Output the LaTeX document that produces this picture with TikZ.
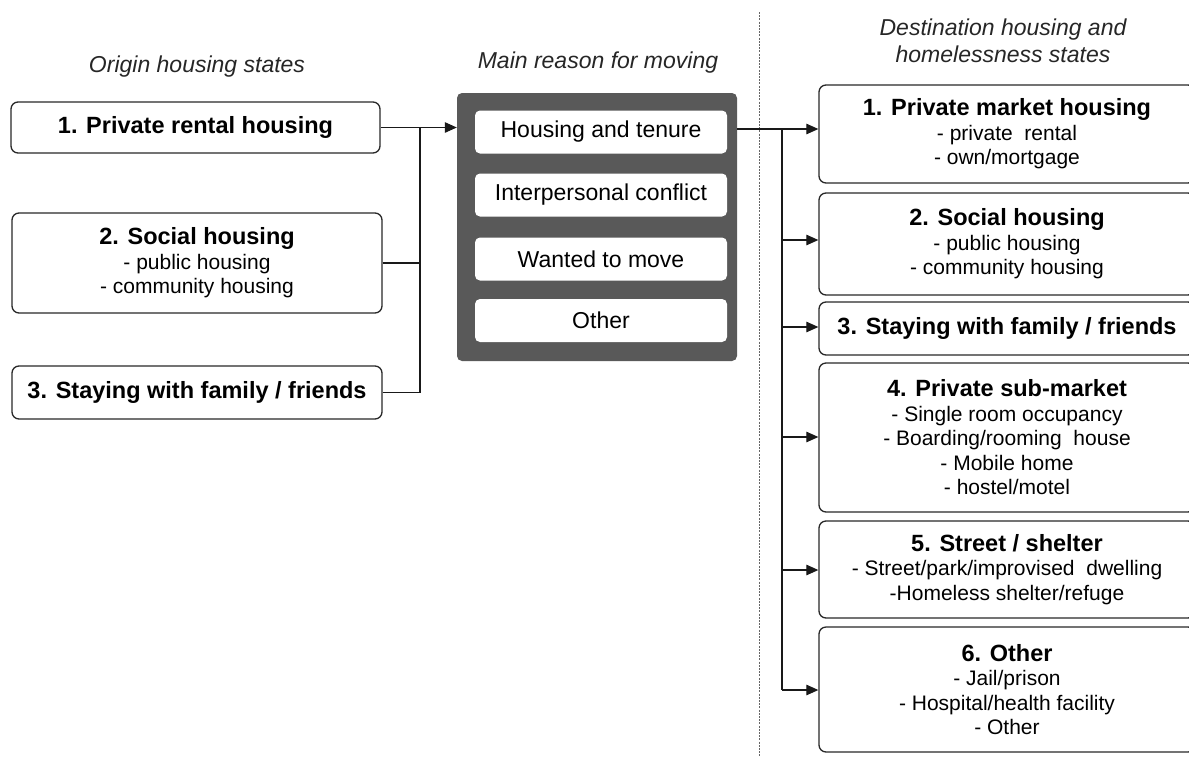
\documentclass[tikz,border=0pt]{standalone}
\usepackage{fontspec}
\setmainfont{Liberation Sans}
\usetikzlibrary{arrows.meta}
\definecolor{midgray}{RGB}{89,89,89}
\definecolor{edgegray}{RGB}{40,40,40}
\newcommand{\boxhead}{\fontsize{23.5}{26}\selectfont\bfseries}
\begin{document}
\begin{tikzpicture}[x=1pt,y=-1pt,
  box/.style={draw=edgegray, line width=1.3pt, rounded corners=7pt, fill=white, inner sep=0pt, align=center, font=\fontsize{21}{24.5}\selectfont},
  reason/.style={fill=white, rounded corners=5pt, minimum width=252pt, minimum height=43pt, inner sep=0pt, font=\fontsize{23}{24}\selectfont},
  conn/.style={line width=1.1pt, draw=black!90},
  arr/.style={conn, -{Triangle[length=12pt,width=10.5pt]}},
  title/.style={font=\fontsize{23}{27}\selectfont\itshape, align=center, text=black!85}
]
\useasboundingbox (0,0) rectangle (1189,756);
\clip (0,0) rectangle (1189,756);

% titles
\node[title] (t1) at (197,67) {Origin housing states};
\node[title] (t2) at (598,63) {Main reason for moving};
\node[title] (t3) at (1003,41) {Destination housing and\\homelessness states};

% dashed separator
\coordinate (dtop) at (759,12);
\coordinate (dbot) at (759,756);
\draw[black!60, line width=0.9pt, dash pattern=on 2pt off 1.2pt] (dtop) -- (dbot);

% origin boxes
\node[box, minimum width=369pt, minimum height=51pt] (l1) at (195.5,127.5) {\boxhead 1. Private rental housing};
\node[box, minimum width=370pt, minimum height=100pt] (l2) at (197,263) {{\boxhead 2. Social housing}\\- public housing\\- community housing};
\node[box, minimum width=370pt, minimum height=53pt] (l3) at (197,392.5) {\boxhead 3. Staying with family / friends};

% reason block
\node[fill=midgray, rounded corners=5pt, minimum width=280pt, minimum height=268pt, inner sep=0pt] (mid) at (597,227) {};
\node[reason] (r1) at (601,132) {Housing and tenure};
\node[reason] (r2) at (601,195) {Interpersonal conflict};
\node[reason] (r3) at (601,259) {Wanted to move};
\node[reason] (r4) at (601,320.5) {Other};

% destination boxes
\node[box, minimum width=376pt, minimum height=98pt] (d1) at (1007,134) {{\boxhead 1. Private market housing}\\- private\ \ rental\\- own/mortgage};
\node[box, minimum width=376pt, minimum height=102pt] (d2) at (1007,244) {{\boxhead 2. Social housing}\\- public housing\\- community housing};
\node[box, minimum width=376pt, minimum height=53pt] (d3) at (1007,328.5) {\boxhead 3. Staying with family / friends};
\node[box, minimum width=376pt, minimum height=149pt] (d4) at (1007,437.5) {{\boxhead 4. Private sub-market}\\- Single room occupancy\\- Boarding/rooming\ \ house\\- Mobile home\\- hostel/motel};
\node[box, minimum width=376pt, minimum height=97pt] (d5) at (1007,569.5) {{\boxhead 5. Street / shelter}\\- Street/park/improvised\ \ dwelling\\-Homeless shelter/refuge};
\node[box, minimum width=376pt, minimum height=125pt] (d6) at (1007,689.5) {{\boxhead 6. Other}\\- Jail/prison\\- Hospital/health facility\\- Other};

% left connectors
\coordinate (ltop) at (420,127.5);
\coordinate (lbot) at (420,392.5);
\draw[arr] (l1.east) -- (l1.east -| mid.west);
\draw[conn] (l2.east) -- (l2.east -| ltop);
\draw[conn] (l3.east) -- (lbot);
\draw[conn] (ltop) -- (lbot);

% right connectors
\coordinate (j1) at (782,129);
\coordinate (j2) at (782,240);
\coordinate (j3) at (782,327);
\coordinate (j4) at (782,437);
\coordinate (j5) at (782,570);
\coordinate (j6) at (782,690);
\draw[arr] (mid.east |- j1) -- (j1 -| d1.west);
\draw[conn] (j1) -- (j6);
\draw[arr] (j2) -- (j2 -| d2.west);
\draw[arr] (j3) -- (j3 -| d3.west);
\draw[arr] (j4) -- (j4 -| d4.west);
\draw[arr] (j5) -- (j5 -| d5.west);
\draw[arr] (j6) -- (j6 -| d6.west);
\end{tikzpicture}
\end{document}
